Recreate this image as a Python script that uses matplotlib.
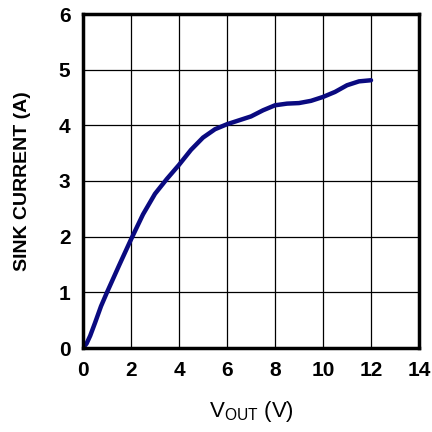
import numpy as np
import matplotlib.pyplot as plt

plt.rcParams['font.family'] = ['Liberation Sans', 'DejaVu Sans']

# valores
vout = [0, 0.15, 0.3, 0.5, 0.75, 1.0, 1.5, 2.0, 2.5, 3.0, 3.5, 4.0, 4.5, 5.0, 5.5, 6.0, 6.5, 7.0, 7.5, 8.0, 8.5, 9.0, 9.5, 10.0, 10.5, 11.0, 11.5, 12.0]
sink = [0, 0.08, 0.22, 0.45, 0.75, 1.0, 1.48, 1.95, 2.4, 2.77, 3.04, 3.29, 3.56, 3.78, 3.93, 4.02, 4.09, 4.16, 4.27, 4.36, 4.39, 4.40, 4.44, 4.51, 4.60, 4.72, 4.79, 4.81]

xticks = [0, 2, 4, 6, 8, 10, 12, 14]
yticks = [0, 1, 2, 3, 4, 5, 6]

fig = plt.figure(figsize=(4.32, 4.32), dpi=100)
ax = fig.add_axes([83/432, 84/432, 336/432, 334/432])

ax.plot(vout, sink, color='#0a0a80', linewidth=3.2, solid_capstyle='round', solid_joinstyle='round')

ax.set_xlim(0, 14)
ax.set_ylim(0, 6)
ax.set_xticks(xticks)
ax.set_yticks(yticks)
ax.grid(True, color='black', linewidth=0.9)
ax.tick_params(length=0, labelsize=15)
ax.tick_params(axis='y', pad=9)
ax.tick_params(axis='x', pad=9)
for lbl in ax.get_xticklabels() + ax.get_yticklabels():
    lbl.set_fontweight('bold')
for s in ax.spines.values():
    s.set_linewidth(2.5)

ax.set_xlabel('V$_{\\mathregular{OUT}}$ (V)', fontsize=16, labelpad=14)
ax.set_ylabel('SINK CURRENT (A)', fontsize=14, fontweight='bold', labelpad=20)

plt.savefig('out.png', dpi=100)
